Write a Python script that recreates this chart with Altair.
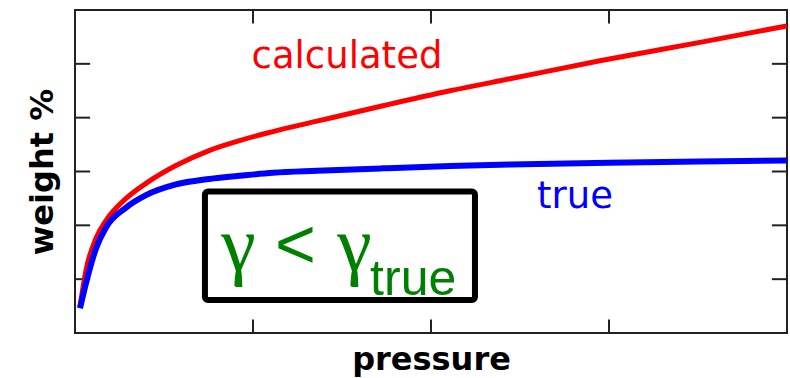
import altair as alt
import pandas as pd

# ---- data (plot units: x 0-4, y 0-6) ----
calc_x = [0.028, 0.062, 0.118, 0.174, 0.287, 0.399, 0.567, 0.753, 0.944, 1.112, 1.360, 1.730, 2.107, 2.444, 2.949, 3.511, 4.0]
calc_y = [0.48, 1.17, 1.76, 2.09, 2.50, 2.78, 3.11, 3.389, 3.593, 3.741, 3.935, 4.222, 4.50, 4.722, 5.056, 5.398, 5.704]
true_x = [0.028, 0.062, 0.118, 0.174, 0.287, 0.399, 0.567, 0.753, 0.944, 1.112, 1.360, 1.730, 2.107, 2.444, 3.0, 3.511, 4.0]
true_y = [0.46, 0.93, 1.57, 1.96, 2.33, 2.56, 2.759, 2.861, 2.926, 2.976, 3.013, 3.059, 3.102, 3.130, 3.163, 3.185, 3.204]

x_ticks = [1, 2, 3]
y_ticks = [1, 2, 3, 4, 5]
x_max, y_max = 4, 6

label_text = ["calculated", "true"]
label_x = [1.528, 2.809]
label_y = [4.926, 2.315]
label_color = ["#ff0000", "#0000ff"]

box_x = [0.730]
box_x2 = [2.247]
box_y = [0.611]
box_y2 = [2.630]

gamma_text = ["γ", "γ"]
gamma_x = [0.9185, 1.570]
gamma_y = [1.167, 1.167]
lt_text = ["<"]
lt_x = [1.239]
lt_y = [1.20]
sub_text = ["true"]
sub_x = [1.90]
sub_y = [0.704]

green = "#008000"

xs = alt.Scale(domain=[0, x_max], nice=False, zero=False)
ys = alt.Scale(domain=[0, y_max], nice=False, zero=False)

calc_df = pd.DataFrame({"x": calc_x, "y": calc_y})
true_df = pd.DataFrame({"x": true_x, "y": true_y})

tick_len_x = 0.085  # in x units (horizontal ticks on side axes)
tick_len_y = 0.25   # in y units (vertical ticks on top/bottom)

tick_rows = []
for t in y_ticks:
    tick_rows.append({"x": 0, "x2": tick_len_x, "y": t, "y2": t})
    tick_rows.append({"x": x_max - tick_len_x, "x2": x_max, "y": t, "y2": t})
for t in x_ticks:
    tick_rows.append({"x": t, "x2": t, "y": 0, "y2": tick_len_y})
    tick_rows.append({"x": t, "x2": t, "y": y_max - tick_len_y, "y2": y_max})
ticks_df = pd.DataFrame(tick_rows)

base_x = alt.X("x:Q", scale=xs, title="pressure")
base_y = alt.Y("y:Q", scale=ys, title="weight %")

ticks = alt.Chart(ticks_df).mark_rule(color="#222222", strokeWidth=2).encode(
    x=base_x, x2="x2:Q", y=base_y, y2="y2:Q"
)

red_line = alt.Chart(calc_df).mark_line(
    color="#ff0000", strokeWidth=5, interpolate="monotone"
).encode(x=base_x, y=base_y)

blue_line = alt.Chart(true_df).mark_line(
    color="#0000ff", strokeWidth=6, interpolate="monotone"
).encode(x=base_x, y=base_y)

labels_df = pd.DataFrame({"t": label_text, "x": label_x, "y": label_y, "c": label_color})
labels = alt.Chart(labels_df).mark_text(
    font="DejaVu Sans", fontSize=37, align="center", baseline="alphabetic"
).encode(
    x=base_x, y=base_y, text="t:N",
    color=alt.Color("c:N", scale=None, legend=None),
)

box_df = pd.DataFrame({"x": box_x, "x2": box_x2, "y": box_y, "y2": box_y2})
box = alt.Chart(box_df).mark_rect(
    fill=None, fillOpacity=0, stroke="black", strokeWidth=6, cornerRadius=3
).encode(x=base_x, x2="x2:Q", y=base_y, y2="y2:Q")

gamma_df = pd.DataFrame({"t": gamma_text, "x": gamma_x, "y": gamma_y})
gammas = alt.Chart(gamma_df).mark_text(
    font="Liberation Serif", fontSize=78, color=green, align="center", baseline="alphabetic"
).encode(x=base_x, y=base_y, text="t:N")

lt_df = pd.DataFrame({"t": lt_text, "x": lt_x, "y": lt_y})
lt = alt.Chart(lt_df).mark_text(
    font="Liberation Sans", fontSize=70, color=green, align="center", baseline="alphabetic"
).encode(x=base_x, y=base_y, text="t:N")

sub_df = pd.DataFrame({"t": sub_text, "x": sub_x, "y": sub_y})
sub = alt.Chart(sub_df).mark_text(
    font="Liberation Sans Narrow, Arial Narrow, Liberation Sans", fontSize=50,
    color=green, align="center", baseline="alphabetic"
).encode(x=base_x, y=base_y, text="t:N")

chart = alt.layer(ticks, red_line, blue_line, labels, box, gammas, lt, sub).properties(
    width=712, height=323,
    autosize=alt.AutoSizeParams(type="none"),
    padding={"left": 75, "top": 10, "right": 3, "bottom": 45},
).configure_view(
    stroke="#222222", strokeWidth=2
).configure_axis(
    labels=False, ticks=False, domain=False, grid=False,
    titleFont="DejaVu Sans", titleFontSize=32, titleFontWeight="bold", titleColor="black",
).configure_axisX(
    titlePadding=11
).configure_axisY(
    titlePadding=16
)

chart.save("out.html", embed_options={"renderer": "svg", "actions": False})
